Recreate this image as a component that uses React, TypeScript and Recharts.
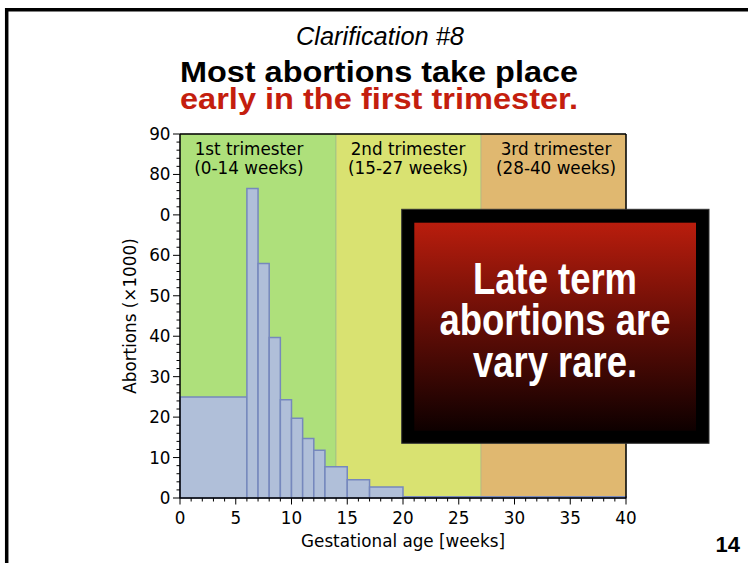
import React from 'react';
import { ComposedChart, XAxis, YAxis, ReferenceArea, ReferenceLine } from 'recharts';

// Histogram bins (weeks) and values (abortions ×1000)
const binStart = [0, 6, 7, 8, 9, 10, 11, 12, 13, 15, 17, 20];
const binEnd = [6, 7, 8, 9, 10, 11, 12, 13, 15, 17, 20, 40];
const abortions = [25, 76.5, 58, 39.7, 24.3, 19.7, 14.7, 11.8, 7.7, 4.5, 2.7, 0.3];

// Trimesters
const trimesterStart = [0, 14, 27];
const trimesterEnd = [14, 27, 40];
const trimesterNames = ['1st trimester', '2nd trimester', '3rd trimester'];
const trimesterWeeks = ['(0-14 weeks)', '(15-27 weeks)', '(28-40 weeks)'];
const trimesterColors = ['#aee07b', '#d9e271', '#e0b870'];

// Ticks
const xMajorTicks = [0, 5, 10, 15, 20, 25, 30, 35, 40];
const yMajorTicks = [0, 10, 20, 30, 40, 50, 60, 70, 80, 90];
const yTickText: Record<number, string> = { 0: '0', 10: '10', 20: '20', 30: '30', 40: '40', 50: '50', 60: '60', 70: '0', 80: '80', 90: '90' };
const xAllTicks = Array.from({ length: 41 }, (_, i) => i);
const yAllTicks = Array.from({ length: 46 }, (_, i) => i * 2);

const data = binStart.map((s, i) => ({ x: (s + binEnd[i]) / 2, y: abortions[i] }));

const TICK_FONT = '"DejaVu Sans", sans-serif';
const FS = 16.8;

const XTick = (props: any) => {
  const { x, y, payload } = props;
  const major = xMajorTicks.includes(payload.value);
  return (
    <g>
      <line x1={x} x2={x} y1={y} y2={y + (major ? 6.5 : 3.5)} stroke="#000" strokeWidth={1} />
      {major && (
        <text x={x} y={y + 25.5} textAnchor="middle" fontFamily={TICK_FONT} fontSize={FS} fill="#000">
          {payload.value}
        </text>
      )}
    </g>
  );
};

const YTick = (props: any) => {
  const { x, y, payload } = props;
  const major = yMajorTicks.includes(payload.value);
  return (
    <g>
      <line x1={x - (major ? 7 : 3.5)} x2={x} y1={y} y2={y} stroke="#000" strokeWidth={1} />
      {major && (
        <text x={x - 9.5} y={y + 6} textAnchor="end" fontFamily={TICK_FONT} fontSize={FS} fill="#000">
          {yTickText[payload.value]}
        </text>
      )}
    </g>
  );
};

const trimLabelCenters = [249, 408, 556];

export default function App() {
  return (
    <div style={{ position: 'absolute', left: 0, top: 0, width: 748, height: 563, background: '#fff', overflow: 'hidden' }}>
      <ComposedChart
        width={748}
        height={563}
        data={data}
        margin={{ top: 134, right: 122, bottom: 35, left: 120 }}
      >
        <XAxis
          dataKey="x"
          type="number"
          domain={[0, 40]}
          ticks={xAllTicks}
          interval={0}
          tick={<XTick />}
          tickLine={false}
          tickSize={0}
          tickMargin={0}
          height={30}
          axisLine={{ stroke: '#000', strokeWidth: 1.5 }}
          allowDataOverflow
        />
        <YAxis
          type="number"
          domain={[0, 90]}
          ticks={yAllTicks}
          interval={0}
          tick={<YTick />}
          tickLine={false}
          tickSize={0}
          tickMargin={0}
          width={60}
          axisLine={{ stroke: '#000', strokeWidth: 1.5 }}
          allowDataOverflow
        />
        {trimesterStart.map((s, i) => (
          <ReferenceArea
            key={'t' + i}
            x1={s}
            x2={trimesterEnd[i]}
            y1={0}
            y2={90}
            fill={trimesterColors[i]}
            fillOpacity={1}
            stroke="#9aa88a"
            strokeOpacity={0.6}
            strokeWidth={0.8}
            isFront={false}
          />
        ))}
        {binStart.map((s, i) => (
          <ReferenceArea
            key={'b' + i}
            x1={s}
            x2={binEnd[i]}
            y1={0}
            y2={abortions[i]}
            fill="#b0bfd9"
            fillOpacity={1}
            stroke="#7688bd"
            strokeWidth={1.5}
          />
        ))}
        <ReferenceLine y={90} stroke="#000" strokeWidth={1.5} />
        <ReferenceLine x={40} stroke="#000" strokeWidth={1.5} />
      </ComposedChart>

      <svg
        width={748}
        height={563}
        style={{ position: 'absolute', left: 0, top: 0, pointerEvents: 'none' }}
      >
        <defs>
          <linearGradient id="boxGrad" x1="0" y1="0" x2="0" y2="1">
            <stop offset="0" stopColor="#b91d0d" />
            <stop offset="0.5" stopColor="#620d06" />
            <stop offset="1" stopColor="#0e0000" />
          </linearGradient>
        </defs>

        {/* slide frame */}
        <path d="M 6.7 563 L 6.7 9.7 L 748 9.7" fill="none" stroke="#000" strokeWidth={3.5} />

        {/* titles */}
        <text x={380} y={45.3} textAnchor="middle" fontFamily='"Liberation Sans", Arial, sans-serif' fontStyle="italic" fontSize={26} fill="#000" textLength={168} lengthAdjust="spacingAndGlyphs">
          Clarification #8
        </text>
        <text x={379} y={81.5} textAnchor="middle" fontFamily='"Liberation Sans", Arial, sans-serif' fontWeight="bold" fontSize={29.5} fill="#000" textLength={398} lengthAdjust="spacingAndGlyphs">
          Most abortions take place
        </text>
        <text x={379} y={108.7} textAnchor="middle" fontFamily='"Liberation Sans", Arial, sans-serif' fontWeight="bold" fontSize={29.5} fill="#c41e0e" textLength={398} lengthAdjust="spacingAndGlyphs">
          early in the first trimester.
        </text>

        {/* trimester labels */}
        {trimesterNames.map((n, i) => (
          <g key={'tl' + i}>
            <text x={trimLabelCenters[i]} y={155} textAnchor="middle" fontFamily={TICK_FONT} fontSize={FS} fill="#000">{n}</text>
            <text x={trimLabelCenters[i]} y={174} textAnchor="middle" fontFamily={TICK_FONT} fontSize={FS} fill="#000">{trimesterWeeks[i]}</text>
          </g>
        ))}

        {/* axis titles */}
        <text x={403} y={547} textAnchor="middle" fontFamily={TICK_FONT} fontSize={FS} fill="#000">
          Gestational age [weeks]
        </text>
        <text x={136} y={316} textAnchor="middle" fontFamily={TICK_FONT} fontSize={FS} fill="#000" transform="rotate(-90 136 316)">
          Abortions (×1000)
        </text>

        {/* overlay box */}
        <rect x={401.7} y={209.3} width={307.3} height={234} fill="#000" stroke="#333" strokeWidth={1} />
        <rect x={414.3} y={222.7} width={281.7} height={208} fill="url(#boxGrad)" />
        <g fontFamily='"Liberation Sans Narrow", "Liberation Sans", Arial, sans-serif' fontWeight="bold" fontSize={44} fill="#fff" textAnchor="middle">
          <text x={555} y={294} textLength={164} lengthAdjust="spacingAndGlyphs">Late term</text>
          <text x={555} y={335} textLength={231} lengthAdjust="spacingAndGlyphs">abortions are</text>
          <text x={555} y={377} textLength={164} lengthAdjust="spacingAndGlyphs">vary rare.</text>
        </g>

        {/* page number */}
        <text x={740} y={551.7} textAnchor="end" fontFamily='"Liberation Sans", Arial, sans-serif' fontWeight="bold" fontSize={22} fill="#000">
          14
        </text>
      </svg>
    </div>
  );
}
